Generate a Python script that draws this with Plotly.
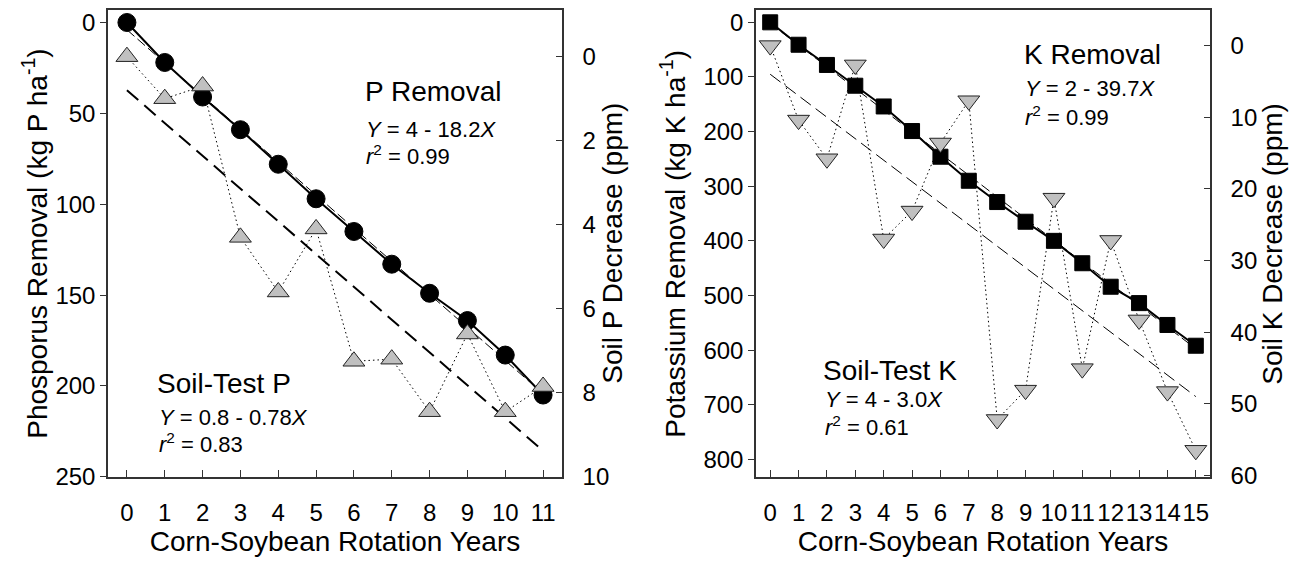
import plotly.graph_objects as go

# ---------------- data ----------------
years_p = [0, 1, 2, 3, 4, 5, 6, 7, 8, 9, 10, 11]
p_removal = [0, 22, 41, 59, 78, 97, 115, 133, 149, 164, 183, 205]
p_soil = [0, 1.0, 0.7, 4.3, 5.6, 4.1, 7.25, 7.2, 8.45, 6.6, 8.45, 7.85]

years_k = [0, 1, 2, 3, 4, 5, 6, 7, 8, 9, 10, 11, 12, 13, 14, 15]
k_removal = [0, 41, 78, 116, 154, 199, 246, 290, 329, 365, 400, 441, 484, 514, 554, 592]
k_soil = [0, 10.4, 15.8, 2.7, 27, 23.1, 13.6, 7.7, 52.2, 48.1, 21.3, 45.1, 27.2, 38.3, 48.3, 56.5]

# regression (intercept, slope) as printed on the chart
p_rem_fit = (4, 18.2)
p_soil_fit = (0.8, 0.78)
k_rem_fit = (2, 39.7)
k_soil_fit = (4, 3.0)

p_yticks = [0, 50, 100, 150, 200, 250]
p_y2ticks = [0, 2, 4, 6, 8, 10]
k_yticks = [0, 100, 200, 300, 400, 500, 600, 700, 800]
k_y2ticks = [0, 10, 20, 30, 40, 50, 60]

FONT = "Liberation Sans, Arial, sans-serif"
TRI_FILL = "#c0c0c0"
AX = "#333333"


def fit_line(xs, fit):
    a, b = fit
    x0, x1 = xs[0], xs[-1]
    return [x0, x1], [a + b * x0, a + b * x1]


fig = go.Figure()

# ---- Phosphorus panel ----
fx, fy = fit_line(years_p, p_rem_fit)
fig.add_trace(go.Scatter(x=fx, y=fy, mode="lines", xaxis="x", yaxis="y",
                         line=dict(color="black", width=1, dash="10px,4px"), showlegend=False))
fig.add_trace(go.Scatter(x=years_p, y=p_removal, mode="lines+markers", xaxis="x", yaxis="y",
                         line=dict(color="black", width=2),
                         marker=dict(symbol="circle", size=18, color="black",
                                     line=dict(color="black", width=1)),
                         showlegend=False))
fx, fy = fit_line(years_p, p_soil_fit)
fig.add_trace(go.Scatter(x=fx, y=fy, mode="lines", xaxis="x", yaxis="y2",
                         line=dict(color="black", width=2, dash="15px,8px"), showlegend=False))
fig.add_trace(go.Scatter(x=years_p, y=p_soil, mode="lines+markers", xaxis="x", yaxis="y2",
                         line=dict(color="black", width=1, dash="1.5px,3px"),
                         marker=dict(symbol="triangle-up", size=19, color=TRI_FILL,
                                     line=dict(color="#222222", width=1)),
                         showlegend=False))

# ---- Potassium panel ----
fx, fy = fit_line(years_k, k_soil_fit)
fig.add_trace(go.Scatter(x=fx, y=fy, mode="lines", xaxis="x2", yaxis="y4",
                         line=dict(color="black", width=1, dash="13px,6px"), showlegend=False))
fig.add_trace(go.Scatter(x=years_k, y=k_soil, mode="lines+markers", xaxis="x2", yaxis="y4",
                         line=dict(color="black", width=1, dash="1.5px,3px"),
                         marker=dict(symbol="triangle-down", size=19, color=TRI_FILL,
                                     line=dict(color="#222222", width=1)),
                         showlegend=False))
fx, fy = fit_line(years_k, k_rem_fit)
fig.add_trace(go.Scatter(x=fx, y=fy, mode="lines", xaxis="x2", yaxis="y3",
                         line=dict(color="black", width=1, dash="10px,4px"), showlegend=False))
fig.add_trace(go.Scatter(x=years_k, y=k_removal, mode="lines+markers", xaxis="x2", yaxis="y3",
                         line=dict(color="black", width=2),
                         marker=dict(symbol="square", size=15, color="black",
                                     line=dict(color="black", width=1)),
                         showlegend=False))

W, H = 1299, 561
ydom = [1 - 488 / H, 1 - 9 / H]
tickfont = dict(family=FONT, size=24, color="black")
titlefont = dict(family=FONT, size=28, color="black")


def xax(domain, anchor, rng, ticks):
    return dict(domain=domain, anchor=anchor, range=rng, tickvals=ticks, tickangle=0,
                showline=True, linecolor=AX, linewidth=1.5, mirror=True,
                ticks="inside", ticklen=7, tickcolor=AX, tickwidth=1,
                showgrid=False, zeroline=False, tickfont=tickfont,
                ticklabelstandoff=14,
                title=dict(text="Corn-Soybean Rotation Years", font=titlefont, standoff=2))


def yax_left(anchor, rng, ticks):
    return dict(domain=ydom, anchor=anchor, range=rng, tickvals=ticks, side="left",
                showline=True, linecolor=AX, linewidth=1.5,
                ticks="outside", ticklen=6, tickcolor=AX, tickwidth=1,
                showgrid=False, zeroline=False, tickfont=tickfont)


def yax_right(anchor, overlay, rng, ticks):
    return dict(anchor=anchor, overlaying=overlay, range=rng, tickvals=ticks, side="right",
                showline=True, linecolor=AX, linewidth=1.5,
                ticks="inside", ticklen=6, tickcolor=AX, tickwidth=1,
                showgrid=False, zeroline=False, tickfont=tickfont,
                ticklabelstandoff=14)


fig.update_layout(
    width=W, height=H,
    margin=dict(l=0, r=0, t=0, b=0),
    paper_bgcolor="white", plot_bgcolor="white",
    font=dict(family=FONT, color="black"),
    xaxis=xax([108 / W, 562 / W], "y", [-0.5, 11.5], years_p),
    yaxis=yax_left("x", [250, -7], p_yticks),
    yaxis2=yax_right("x", "y", [10, -1.116], p_y2ticks),
    xaxis2=xax([756 / W, 1210 / W], "y3", [-0.5, 15.5], years_k),
    yaxis3=yax_left("x2", [832, -23], k_yticks),
    yaxis4=yax_right("x2", "y3", [60.2, -5], k_y2ticks),
)


def label(x, y, text, size, angle=0, xanchor="left"):
    fig.add_annotation(x=x / W, y=1 - y / H, xref="paper", yref="paper",
                       xanchor=xanchor, yanchor="middle", showarrow=False, textangle=angle,
                       text=text, font=dict(family=FONT, size=size, color="black"))


# axis titles
label(35, 249, "Phosporus Removal (kg P ha<sup>-1</sup>)", 28, -90, "center")
label(613, 249, "Soil P Decrease (ppm)", 28, -90, "center")
label(673, 249, "Potassium Removal (kg K ha<sup>-1</sup>)", 28, -90, "center")
label(1273, 249, "Soil K Decrease (ppm)", 28, -90, "center")

# in-plot labels
label(363, 93, "P Removal", 28)
label(364, 132, "<i>Y</i> = 4 - 18.2<i>X</i>", 22)
label(364, 158, "<i>r</i><sup>2</sup> = 0.99", 22)

label(155, 392, "Soil-Test P", 28)
label(157, 427, "<i>Y</i> = 0.8 - 0.78<i>X</i>", 22)
label(157, 453, "<i>r</i><sup>2</sup> = 0.83", 22)

label(1022, 55, "K Removal", 28)
label(1023, 90, "<i>Y</i> = 2 - 39.7<i>X</i>", 22)
label(1023, 118, "<i>r</i><sup>2</sup> = 0.99", 22)

label(821, 379, "Soil-Test K", 28)
label(823, 409, "<i>Y</i> = 4 - 3.0<i>X</i>", 22)
label(823, 436, "<i>r</i><sup>2</sup> = 0.61", 22)

fig.write_html("out.html")
